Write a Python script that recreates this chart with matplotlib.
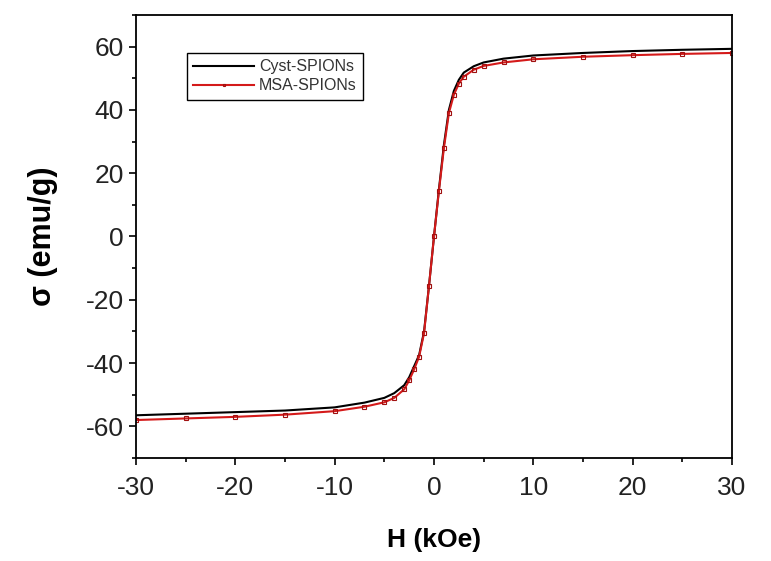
import matplotlib.pyplot as plt
from matplotlib.ticker import MultipleLocator

plt.rcParams['font.family'] = ['Liberation Sans', 'DejaVu Sans']
plt.rcParams['axes.unicode_minus'] = False

# field values (kOe)
H = [-30, -25, -20, -15, -10, -7, -5, -4, -3, -2.5, -2, -1.5, -1, -0.5,
     0, 0.5, 1, 1.5, 2, 2.5, 3, 4, 5, 7, 10, 15, 20, 25, 30]

# magnetisation (emu/g)
M_cyst = [-56.5, -56.0, -55.5, -55.0, -54.0, -52.5, -51.0, -49.5, -47.0, -44.5,
          -41.0, -37.5, -30.0, -15.5, 0.0, 15.0, 29.0, 40.0, 46.0, 49.5,
          51.8, 53.8, 55.0, 56.2, 57.2, 58.0, 58.6, 59.0, 59.3]
M_msa = [-58.0, -57.5, -57.0, -56.3, -55.2, -53.8, -52.4, -51.0, -48.3, -45.5,
         -42.0, -38.0, -30.5, -15.5, 0.0, 14.5, 28.0, 39.0, 44.8, 48.3,
         50.5, 52.7, 53.9, 55.0, 56.0, 56.8, 57.3, 57.7, 58.0]

legends = ['Cyst-SPIONs', 'MSA-SPIONs']

fig = plt.figure(figsize=(7.71, 5.61), dpi=100)
ax = fig.add_axes([0.1764, 0.1836, 0.7730, 0.7897])

ax.plot(H, M_cyst, '-', color='black', lw=1.5, label=legends[0])
ax.plot(H, M_msa, '-', color='#d41a1a', lw=1.5, marker='s', ms=2.5,
        mfc='none', mec='#a01010', mew=0.8, label=legends[1])

ax.set_xlim(-30, 30)
ax.set_ylim(-70, 70)
ax.xaxis.set_major_locator(MultipleLocator(10))
ax.xaxis.set_minor_locator(MultipleLocator(5))
ax.yaxis.set_major_locator(MultipleLocator(20))
ax.yaxis.set_minor_locator(MultipleLocator(10))
ax.tick_params(which='major', direction='out', length=5, width=1.2,
               labelsize=19, colors='black', labelcolor='#222222')
ax.tick_params(axis='x', which='major', pad=8)
ax.tick_params(axis='y', which='major', pad=4)
ax.tick_params(which='minor', direction='out', length=3, width=1.2)
for s in ax.spines.values():
    s.set_linewidth(1.3)

ax.set_xlabel('H (kOe)', fontsize=19, weight='bold', labelpad=20)
ax.set_ylabel('σ (emu/g)', fontsize=22, weight='bold', labelpad=20)

leg = ax.legend(loc='upper left', bbox_to_anchor=(0.0856, 0.914), borderaxespad=0,
                fancybox=False, edgecolor='black', framealpha=1, fontsize=11.5,
                handlelength=3.8, handletextpad=0.3, labelspacing=0.25,
                borderpad=0.4, markerscale=0.8)
for t in leg.get_texts():
    t.set_color('#333333')

plt.savefig('out.png', dpi=100)
